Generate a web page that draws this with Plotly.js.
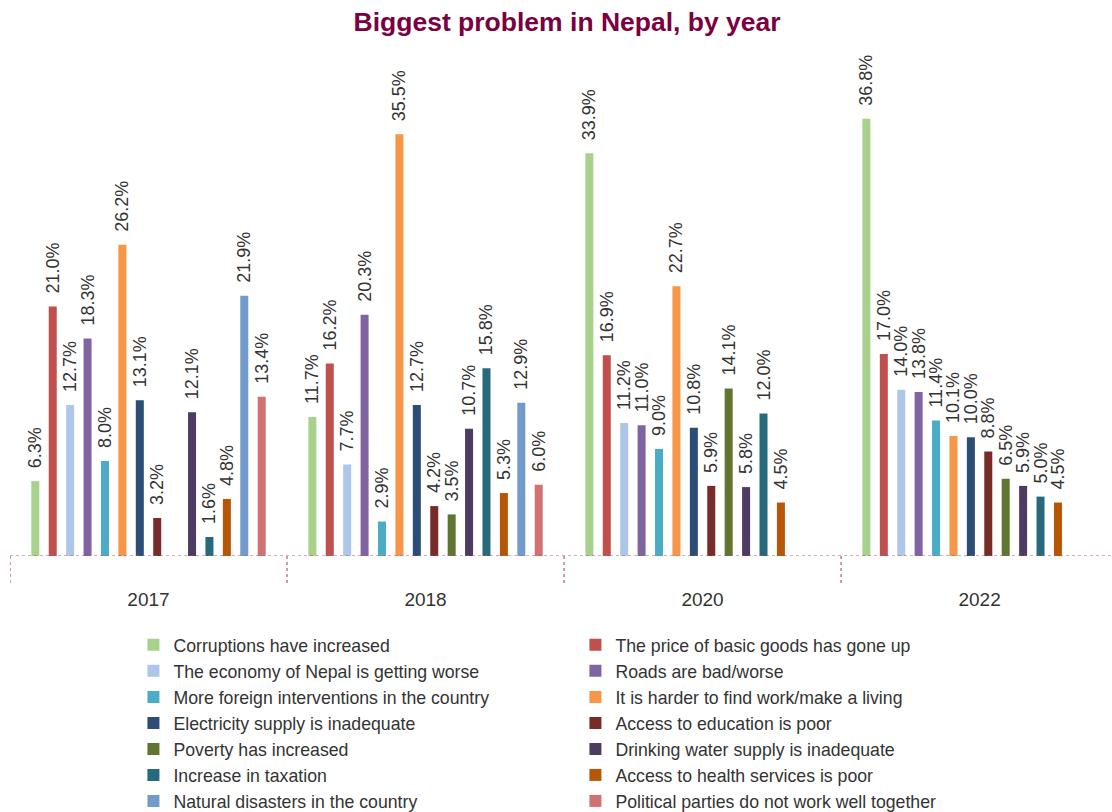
<!DOCTYPE html>
<html>
<head>
<meta charset="utf-8">
<script src="https://cdn.plot.ly/plotly-3.0.1.min.js"></script>
<style>html,body{margin:0;padding:0;background:#fff;}#chart{width:1112px;height:812px;}</style>
</head>
<body>
<div id="chart"></div>
<script>
const years = ["2017", "2018", "2020", "2022"];

const seriesNames = [
  "Corruptions have increased",
  "The price of basic goods has gone up",
  "The economy of Nepal is getting worse",
  "Roads are bad/worse",
  "More foreign interventions in the country",
  "It is harder to find work/make a living",
  "Electricity supply is inadequate",
  "Access to education is poor",
  "Poverty has increased",
  "Drinking water supply is inadequate",
  "Increase in taxation",
  "Access to health services is poor",
  "Natural disasters in the country",
  "Political parties do not work well together"
];

const corruption   = [6.3, 11.7, 33.9, 36.8];
const price        = [21.0, 16.2, 16.9, 17.0];
const economy      = [12.7, 7.7, 11.2, 14.0];
const roads        = [18.3, 20.3, 11.0, 13.8];
const foreign      = [8.0, 2.9, 9.0, 11.4];
const work         = [26.2, 35.5, 22.7, 10.1];
const electricity  = [13.1, 12.7, 10.8, 10.0];
const education    = [3.2, 4.2, 5.9, 8.8];
const poverty      = [null, 3.5, 14.1, 6.5];
const water        = [12.1, 10.7, 5.8, 5.9];
const taxation     = [1.6, 15.8, 12.0, 5.0];
const health       = [4.8, 5.3, 4.5, 4.5];
const disasters    = [21.9, 12.9, null, null];
const political    = [13.4, 6.0, null, null];

const seriesValues = [corruption, price, economy, roads, foreign, work, electricity,
  education, poverty, water, taxation, health, disasters, political];

const colors = ["#A9D18E", "#C0504D", "#ADC6E9", "#8064A2", "#4BACC6", "#F79646", "#2C4D75",
  "#772C2A", "#5F7530", "#4D3B62", "#276A7C", "#B65708", "#729ACA", "#D07271"];

const FONT = "Liberation Sans, Arial, sans-serif";

const traces = seriesNames.map((name, i) => ({
  type: "bar",
  name: name,
  x: years,
  y: seriesValues[i],
  marker: { color: colors[i], line: { width: 0 } },
  text: seriesValues[i].map(v => v === null ? "" : "\u00A0\u00A0" + v.toFixed(1) + "%"),
  textposition: "outside",
  textangle: -90,
  constraintext: "none",
  cliponaxis: false,
  textfont: { family: FONT, size: 18, color: "#333333" },
  hoverinfo: "name+y"
}));

const pink = "#B5547F";
const shapes = [{
  type: "line", xref: "paper", yref: "y", x0: 0, x1: 1, y0: 0, y1: 0,
  line: { color: pink, width: 1.2, dash: "dot" }
}];
years.forEach((yr, i) => {
  shapes.push({
    type: "line", xref: "x", yref: "paper", x0: i - 0.5, x1: i - 0.5, y0: 0, y1: -0.055,
    line: { color: pink, width: 1.2, dash: "dot" }
  });
});

const layout = {
  width: 1112, height: 812,
  margin: { l: 10, r: 0, t: 57, b: 256, autoexpand: false },
  paper_bgcolor: "#ffffff", plot_bgcolor: "#ffffff",
  title: {
    text: "<b>Biggest problem in Nepal, by year</b>",
    font: { family: FONT, size: 26.5, color: "#7B0041" },
    x: 0.51, xanchor: "center", y: 0.973, yanchor: "middle"
  },
  barmode: "group",
  bargap: 0.12,
  bargroupgap: 0.54,
  xaxis: {
    type: "category",
    range: [-0.5, 3.478],
    showline: false, showgrid: false, zeroline: false,
    ticks: "", tickfont: { family: FONT, size: 19, color: "#333333" },
    ticklabelstandoff: 30, fixedrange: true
  },
  yaxis: {
    range: [0, 42], visible: false, showgrid: false, zeroline: false, fixedrange: true
  },
  showlegend: true,
  legend: {
    orientation: "h",
    x: 0.112, xanchor: "left",
    y: -0.142, yanchor: "top",
    entrywidth: 397, entrywidthmode: "pixels",
    font: { family: FONT, size: 17.7, color: "#333333" },
    traceorder: "normal",
    itemclick: false, itemdoubleclick: false
  },
  shapes: shapes
};

Plotly.newPlot("chart", traces, layout, { displayModeBar: false, staticPlot: true });
</script>
</body>
</html>
